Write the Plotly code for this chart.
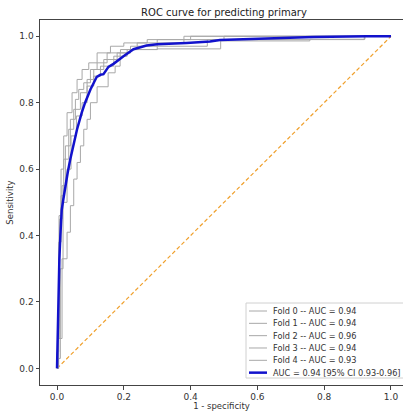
import plotly.graph_objects as go

# mean ROC curve
mean_fpr = [0, 0.002, 0.004, 0.007, 0.01, 0.014, 0.019, 0.025, 0.032, 0.039, 0.05, 0.06,
            0.074, 0.084, 0.1, 0.119, 0.13, 0.139, 0.154, 0.169, 0.199, 0.229, 0.268,
            0.3, 0.388, 0.458, 0.488, 0.628, 0.767, 0.927, 1.0]
mean_tpr = [0, 0.1, 0.24, 0.33, 0.4, 0.477, 0.51, 0.55, 0.59, 0.627, 0.68, 0.72,
            0.77, 0.8, 0.84, 0.878, 0.884, 0.886, 0.908, 0.917, 0.94, 0.961, 0.972,
            0.976, 0.98, 0.984, 0.989, 0.994, 0.998, 1.0, 1.0]

# per-fold ROC step curves (top of each vertical jump)
fold_fpr = [
    [0, 0, 0.005, 0.012, 0.02, 0.035, 0.05, 0.07, 0.09, 0.11, 0.14, 0.18, 0.22, 0.3, 0.5, 1.0],
    [0, 0.003, 0.008, 0.015, 0.025, 0.04, 0.055, 0.065, 0.08, 0.1, 0.12, 0.15, 0.19, 0.24, 0.38, 1.0],
    [0, 0.002, 0.006, 0.012, 0.02, 0.03, 0.045, 0.06, 0.075, 0.095, 0.12, 0.16, 0.2, 0.27, 0.4, 1.0],
    [0, 0.004, 0.01, 0.018, 0.03, 0.042, 0.058, 0.075, 0.09, 0.11, 0.13, 0.17, 0.21, 0.3, 0.49,
     0.757, 0.922, 1.0],
    [0, 0.005, 0.015, 0.03, 0.04, 0.05, 0.06, 0.07, 0.08, 0.09, 0.1, 0.12, 0.153, 0.174, 0.189,
     0.22, 0.3, 0.45, 0.92, 1.0],
]
fold_tpr = [
    [0, 0.05, 0.38, 0.52, 0.63, 0.72, 0.78, 0.83, 0.87, 0.9, 0.93, 0.95, 0.97, 0.99, 1.0, 1.0],
    [0, 0.09, 0.45, 0.55, 0.67, 0.75, 0.81, 0.84, 0.86, 0.9, 0.92, 0.95, 0.96, 0.98, 1.0, 1.0],
    [0, 0.12, 0.46, 0.6, 0.7, 0.77, 0.83, 0.87, 0.9, 0.92, 0.95, 0.97, 0.98, 0.99, 1.0, 1.0],
    [0, 0.03, 0.3, 0.5, 0.6, 0.7, 0.76, 0.8, 0.85, 0.88, 0.91, 0.94, 0.96, 0.962, 0.986,
     0.991, 1.0, 1.0],
    [0, 0.09, 0.33, 0.41, 0.49, 0.57, 0.62, 0.67, 0.72, 0.75, 0.8, 0.848, 0.89, 0.91, 0.95,
     0.96, 0.97, 0.99, 1.0, 1.0],
]
fold_auc = [0.94, 0.94, 0.96, 0.94, 0.93]
mean_auc = 0.94
ci_low, ci_high = 0.93, 0.96

FONT = "DejaVu Sans"
W, H = 403, 411
L, R, T, B = 40, 0, 20, 26
BLUE = "#1212cc"
GREY = "#a8a8a8"

fig = go.Figure()

fig.add_trace(go.Scatter(x=[0, 1], y=[0, 1], mode="lines",
                         line=dict(color="#f0a02c", width=1.2, dash="4px,2.5px"),
                         showlegend=False, hoverinfo="skip"))

for i in range(len(fold_fpr)):
    fig.add_trace(go.Scatter(x=fold_fpr[i], y=fold_tpr[i], mode="lines",
                             line=dict(color=GREY, width=1, shape="hv"),
                             name=f"Fold {i} -- AUC = {fold_auc[i]:.2f}",
                             showlegend=False))

fig.add_trace(go.Scatter(x=mean_fpr, y=mean_tpr, mode="lines",
                         line=dict(color=BLUE, width=2.5),
                         name=f"AUC = {mean_auc:.2f} [95% CI {ci_low:.2f}-{ci_high:.2f}]",
                         showlegend=False))

# hand-drawn legend box (matplotlib style, compact rows)
pw, ph = W - L - R, H - T - B


def px_x(p):
    return (p - L) / pw


def px_y(p):
    return (H - B - p) / ph


fig.add_shape(type="rect", xref="paper", yref="paper",
              x0=px_x(246), x1=px_x(406), y0=px_y(378), y1=px_y(303),
              line=dict(color="#d0d0d0", width=1), fillcolor="rgba(255,255,255,0.85)")

labels = [f"Fold {i} -- AUC = {a:.2f}" for i, a in enumerate(fold_auc)]
labels.append(f"AUC = {mean_auc:.2f} [95% CI {ci_low:.2f}-{ci_high:.2f}]")
for k, lab in enumerate(labels):
    yc = 311 + k * 12.33
    is_mean = k == len(labels) - 1
    fig.add_shape(type="line", xref="paper", yref="paper",
                  x0=px_x(249), x1=px_x(267), y0=px_y(yc), y1=px_y(yc),
                  line=dict(color=BLUE if is_mean else GREY,
                            width=2.5 if is_mean else 1))
    fig.add_annotation(x=px_x(271), y=px_y(yc), xref="paper", yref="paper",
                       text=lab, showarrow=False, xanchor="left", yanchor="middle",
                       font=dict(family=FONT, size=8.2, color="#333333"))

axis_common = dict(showgrid=False, zeroline=False, showline=True, linecolor="#444444",
                   linewidth=1, ticks="outside", ticklen=3.5, tickcolor="#444444",
                   tickfont=dict(family=FONT, size=9, color="#333333"),
                   tickformat=".1f", tickvals=[0, 0.2, 0.4, 0.6, 0.8, 1.0])

fig.update_layout(
    width=W, height=H,
    margin=dict(l=L, r=R, t=T, b=B),
    paper_bgcolor="white", plot_bgcolor="white",
    title=dict(text="ROC curve for predicting primary", x=px_x(224), xref="paper",
               xanchor="center", y=1 - 12 / H, yanchor="middle",
               font=dict(family=FONT, size=10, color="#222222")),
    xaxis=dict(axis_common, range=[-0.051, 1.036], mirror=True,
               title=dict(text="1 - specificity", standoff=2,
                          font=dict(family=FONT, size=8.5, color="#333333"))),
    yaxis=dict(axis_common, range=[-0.05, 1.049],
               title=dict(text="Sensitivity", standoff=4,
                          font=dict(family=FONT, size=8.5, color="#333333"))),
    showlegend=False,
)

# drop the page's default body margin so the figure sits at the window origin
fig.write_html("out.html", config={"displayModeBar": False},
               post_script="document.body.style.margin='0';")
